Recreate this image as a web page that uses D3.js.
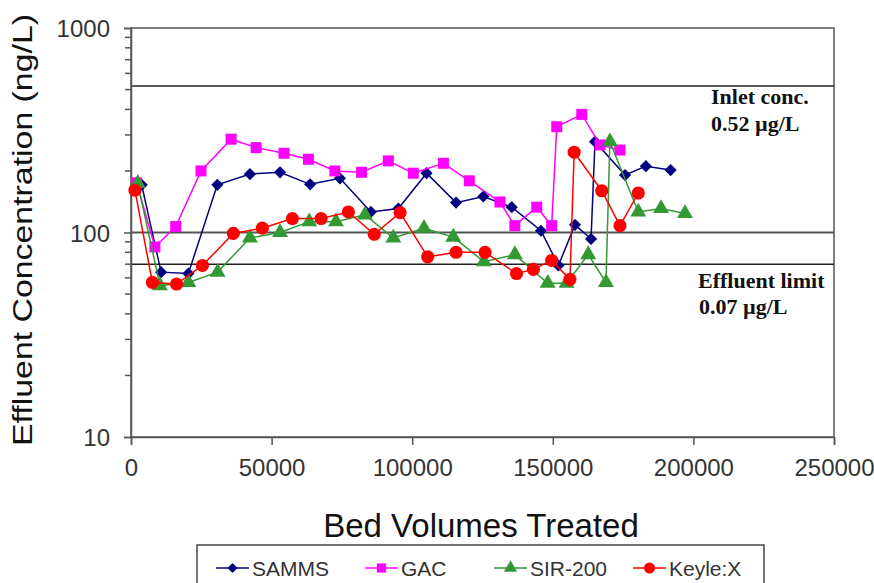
<!DOCTYPE html>
<html>
<head>
<meta charset="utf-8">
<script src="https://cdn.jsdelivr.net/npm/d3@7"></script>
<style>
  body { margin: 0; background: #fff; }
  svg { display: block; font-family: "Liberation Sans", Arial, sans-serif; }
</style>
</head>
<body>
<div id="body"></div>
<script>
// data (bed volumes, ng/L)
var sammsX = [3800, 10700, 20400, 30700, 42300, 53000, 63700, 74300, 85300, 95100, 105100, 115600, 125300, 135400, 145800, 152000, 157900, 163600, 165000, 175700, 183100, 191900];
var sammsY = [171, 64, 63, 171, 193, 197, 172, 184, 126, 131, 195, 140, 150, 133, 102, 69, 109, 93, 278, 191, 211, 202];

var gacX = [2000, 8500, 15900, 24900, 35600, 44500, 54400, 63100, 72500, 82000, 91500, 100400, 111100, 120300, 131200, 136500, 144300, 149600, 151400, 160300, 166800, 173900];
var gacY = [175, 85, 107, 200, 286, 260, 244, 228, 200, 197, 224, 195, 218, 179, 141, 108, 133, 108, 329, 378, 268, 253];

var sirX = [2400, 10300, 20400, 30800, 42300, 53000, 63400, 72900, 83200, 93300, 104200, 114600, 125500, 136500, 148200, 154900, 162600, 168900, 170300, 180400, 188500, 197000];
var sirY = [174, 55, 57, 64, 94, 100, 113, 113, 122, 94, 105, 95, 72, 78, 56.5, 56.5, 78, 57, 278, 126, 131, 124];

var keyX = [1400, 7600, 16200, 25400, 36400, 46700, 57400, 67600, 77300, 86500, 95700, 105500, 115600, 125900, 137100, 143100, 149600, 156100, 157600, 167400, 173900, 180400];
var keyY = [161, 57, 56, 69, 99, 105, 117, 117, 126, 98, 125, 76, 80, 80, 63, 66, 73, 59, 247, 160, 108, 156];

var seriesNames = ["SAMMS", "GAC", "SIR-200", "Keyle:X"];
var xTicks = [0, 50000, 100000, 150000, 200000, 250000];
var yTicks = [10, 100, 1000];
var inletConc = 520;
var effluentLimit = 70;

var series = [
  { name: seriesNames[0], xs: sammsX, ys: sammsY, color: "#000080", sym: "diamond" },
  { name: seriesNames[1], xs: gacX, ys: gacY, color: "#ff00ff", sym: "square" },
  { name: seriesNames[2], xs: sirX, ys: sirY, color: "#339933", sym: "triangle" },
  { name: seriesNames[3], xs: keyX, ys: keyY, color: "#ff0000", sym: "circle" }
];

var W = 874, H = 583;
var margin = { top: 28, right: 40, bottom: 146, left: 131 },
    width = W - margin.left - margin.right,
    height = H - margin.top - margin.bottom;

var svg = d3.select("#body").append("svg")
    .attr("width", W)
    .attr("height", H);

var g = svg.append("g")
    .attr("transform", "translate(" + margin.left + "," + margin.top + ")");

var x = d3.scaleLinear().domain([0, 250000]).range([0, width]);
var y = d3.scaleLog().domain([10, 1000]).range([height, 0]);

// frame
g.append("rect")
    .attr("width", width).attr("height", height)
    .attr("fill", "none").attr("stroke", "#555").attr("stroke-width", 1.5);

// gridline at 100 and the two reference lines
[100, inletConc, effluentLimit].forEach(function(v) {
  g.append("line")
      .attr("x1", 0).attr("x2", width)
      .attr("y1", y(v)).attr("y2", y(v))
      .attr("stroke", v == 100 ? "#555" : "#222")
      .attr("stroke-width", v == 100 ? 2 : 1.5);
});

// y axis + minor ticks
var minor = [];
[10, 100].forEach(function(d) { for (var i = 2; i <= 9; i++) minor.push(d * i); });

var yAxis = d3.axisLeft(y).tickValues(yTicks).tickFormat(d3.format("d")).tickSize(7).tickPadding(14);
var yg = g.append("g").attr("class", "y axis").call(yAxis);
yg.select(".domain").attr("stroke", "#555").attr("stroke-width", 1.5);
yg.selectAll("line").attr("stroke", "#555").attr("stroke-width", 1.5);
yg.selectAll("text").attr("font-size", 24).attr("fill", "#333").attr("dy", "0.36em");

g.append("g").selectAll("line").data(minor).enter().append("line")
    .attr("x1", -6).attr("x2", 0)
    .attr("y1", function(d) { return y(d); }).attr("y2", function(d) { return y(d); })
    .attr("stroke", "#555").attr("stroke-width", 1.5);

var xAxis = d3.axisBottom(x).tickValues(xTicks).tickFormat(d3.format("d")).tickSize(8).tickPadding(14);
var xg = g.append("g").attr("class", "x axis")
    .attr("transform", "translate(0," + height + ")").call(xAxis);
xg.select(".domain").attr("stroke", "#555").attr("stroke-width", 1.5);
xg.selectAll("line").attr("stroke", "#555").attr("stroke-width", 1.5);
xg.selectAll("text").attr("font-size", 24).attr("fill", "#333");

// axis titles
svg.append("text")
    .attr("transform", "translate(32,230) rotate(-90)")
    .attr("text-anchor", "middle")
    .attr("font-size", 27).attr("fill", "#111")
    .attr("textLength", 432).attr("lengthAdjust", "spacingAndGlyphs")
    .text("Effluent Concentration (ng/L)");

svg.append("text")
    .attr("x", 481).attr("y", 537)
    .attr("text-anchor", "middle")
    .attr("font-size", 33).attr("fill", "#111")
    .text("Bed Volumes Treated");

// annotations
var ann = svg.append("g")
    .attr("font-family", "'Liberation Serif', 'Times New Roman', serif")
    .attr("font-weight", "bold").attr("font-size", 22).attr("fill", "#111");
ann.append("text").attr("x", 711).attr("y", 104).text("Inlet conc.");
ann.append("text").attr("x", 711).attr("y", 131).text("0.52 \u00b5g/L");
ann.append("text").attr("x", 698).attr("y", 288).text("Effluent limit");
ann.append("text").attr("x", 699).attr("y", 314).text("0.07 \u00b5g/L");

function symbolType(s) {
  if (s == "diamond") return d3.symbolDiamond2;
  if (s == "square") return d3.symbolSquare;
  if (s == "triangle") return d3.symbolTriangle;
  return d3.symbolCircle;
}
function symbolSize(s) {
  if (s == "diamond") return 95;
  if (s == "square") return 121;
  if (s == "triangle") return 110;
  return 135;
}

var line = d3.line()
    .x(function(d) { return x(d[0]); })
    .y(function(d) { return y(d[1]); });

series.forEach(function(s) {
  var pts = s.xs.map(function(v, i) { return [v, s.ys[i]]; });
  var sg = g.append("g");
  sg.append("path")
      .datum(pts)
      .attr("d", line)
      .attr("fill", "none")
      .attr("stroke", s.color)
      .attr("stroke-width", 1.5);
  sg.selectAll("path.pt").data(pts).enter().append("path")
      .attr("class", "pt")
      .attr("transform", function(d) { return "translate(" + x(d[0]) + "," + y(d[1]) + ")"; })
      .attr("d", d3.symbol().type(symbolType(s.sym)).size(symbolSize(s.sym)))
      .attr("fill", s.color);
});

// legend
var legend = svg.append("g");
legend.append("rect")
    .attr("x", 197).attr("y", 545).attr("width", 567).attr("height", 45)
    .attr("fill", "#fff").attr("stroke", "#444").attr("stroke-width", 1.5);

var legX = [216, 365, 494, 633];
series.forEach(function(s, i) {
  var lg = legend.append("g").attr("transform", "translate(" + legX[i] + ",568)");
  lg.append("line").attr("x1", 0).attr("x2", 33).attr("stroke", s.color).attr("stroke-width", 1.5);
  lg.append("path")
      .attr("transform", "translate(16.5,0)")
      .attr("d", d3.symbol().type(symbolType(s.sym)).size(symbolSize(s.sym) * 0.7))
      .attr("fill", s.color);
  lg.append("text")
      .attr("x", 36).attr("dy", "0.36em")
      .attr("font-size", 21).attr("fill", "#333")
      .text(s.name);
});
</script>
</body>
</html>
